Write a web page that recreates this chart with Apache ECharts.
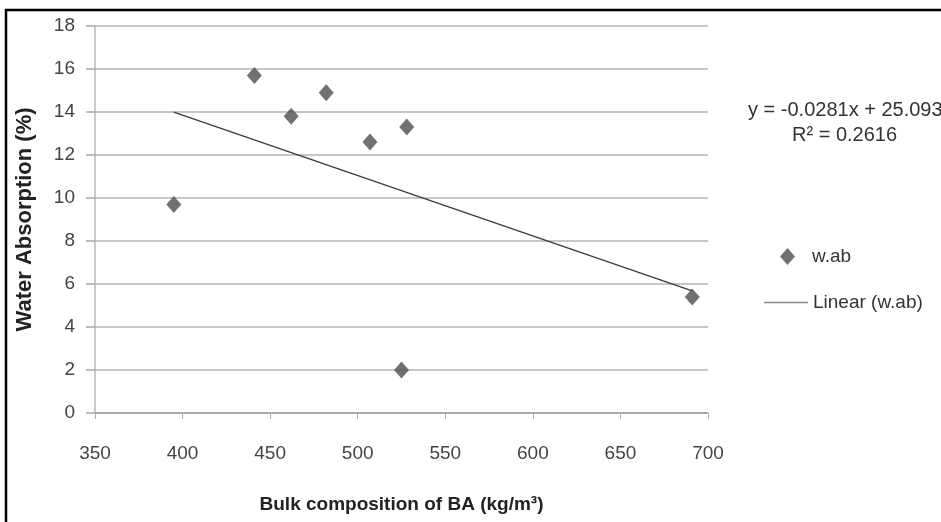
<!DOCTYPE html>
<html>
<head>
<meta charset="utf-8">
<script src="https://cdn.jsdelivr.net/npm/echarts@6/dist/echarts.min.js"></script>
<style>
  html, body { margin: 0; padding: 0; background: #fff; }
  #chart { width: 941px; height: 522px; }
</style>
</head>
<body>
<div id="chart"></div>
<script>
// Bulk composition of bottom ash (kg/m3) and measured water absorption (%)
var bulkComposition = [395, 441, 462, 482, 507, 525, 528, 691];
var waterAbsorption = [9.7, 15.7, 13.8, 14.9, 12.6, 2.0, 13.3, 5.4];

// Linear trend line coefficients and fit quality
var trendSlope = -0.0281;
var trendIntercept = 25.093;
var trendR2 = 0.2616;

var xTicks = { min: 350, max: 700, step: 50 };
var yTicks = { min: 0, max: 18, step: 2 };

var points = bulkComposition.map(function (x, i) { return [x, waterAbsorption[i]]; });
var xLo = Math.min.apply(null, bulkComposition);
var xHi = Math.max.apply(null, bulkComposition);
var trendPoints = [
  [xLo, trendSlope * xLo + trendIntercept],
  [xHi, trendSlope * xHi + trendIntercept]
];

var font = '"Liberation Sans", Arial, sans-serif';
var chart = echarts.init(document.getElementById('chart'), null, { renderer: 'canvas' });

chart.setOption({
  animation: false,
  backgroundColor: '#ffffff',
  grid: { left: 95, right: 233, top: 26, bottom: 109 },
  xAxis: {
    type: 'value',
    min: xTicks.min, max: xTicks.max, interval: xTicks.step,
    name: 'Bulk composition of BA (kg/m\u00b3)',
    nameLocation: 'middle',
    nameGap: 82,
    nameTextStyle: { fontFamily: font, fontSize: 19, fontWeight: 'bold', color: '#222' },
    axisLine: { lineStyle: { color: '#a0a0a0', width: 1.5 } },
    axisTick: { show: true, length: 6, lineStyle: { color: '#b0b0b0' } },
    axisLabel: { fontFamily: font, fontSize: 19, color: '#444', margin: 31 },
    splitLine: { show: false }
  },
  yAxis: {
    type: 'value',
    min: yTicks.min, max: yTicks.max, interval: yTicks.step,
    name: 'Water Absorption (%)',
    nameLocation: 'middle',
    nameGap: 59,
    nameTextStyle: { fontFamily: font, fontSize: 22, fontWeight: 'bold', color: '#222' },
    axisLine: { show: true, lineStyle: { color: '#b8b8b8', width: 1.5 } },
    axisTick: { show: true, length: 9, lineStyle: { color: '#a8a8a8', width: 1.5 } },
    axisLabel: { fontFamily: font, fontSize: 19, color: '#444', margin: 20 },
    splitLine: { show: true, lineStyle: { color: '#b4b4b4', width: 1.5 } }
  },
  legend: [
    {
      data: ['w.ab'],
      left: 775, top: 242,
      itemWidth: 15, itemHeight: 17,
      textStyle: { fontFamily: font, fontSize: 19, color: '#333', padding: [0, 0, 0, 12] }
    },
    {
      data: [{ name: 'Linear (w.ab)', icon: 'rect', itemStyle: { color: '#8a8a8a' } }],
      left: 759, top: 288,
      itemWidth: 44, itemHeight: 1.5,
      textStyle: { fontFamily: font, fontSize: 19, color: '#333' }
    }
  ],
  graphic: [
    {
      type: 'text', left: 748, top: 100,
      style: { text: 'y = -0.0281x + 25.093', font: '20px ' + font, fill: '#333' }
    },
    {
      type: 'text', left: 792, top: 125,
      style: { text: 'R\u00b2 = ' + trendR2.toFixed(4), font: '20px ' + font, fill: '#333' }
    },
    {
      type: 'line', shape: { x1: 6, y1: 9, x2: 6, y2: 522 },
      style: { stroke: '#000', lineWidth: 2.5 }
    },
    {
      type: 'line', shape: { x1: 5, y1: 10, x2: 941, y2: 10 },
      style: { stroke: '#000', lineWidth: 2.5 }
    }
  ],
  series: [
    {
      name: 'w.ab',
      type: 'scatter',
      data: points,
      symbol: 'diamond',
      symbolSize: [15, 17],
      itemStyle: { color: '#4d4d4d' },
      z: 3
    },
    {
      name: 'Linear (w.ab)',
      type: 'line',
      data: trendPoints,
      showSymbol: false,
      symbol: 'none',
      lineStyle: { color: '#3a3a3a', width: 1.3 },
      itemStyle: { color: '#4d4d4d' },
      z: 2
    }
  ]
});
</script>
</body>
</html>
